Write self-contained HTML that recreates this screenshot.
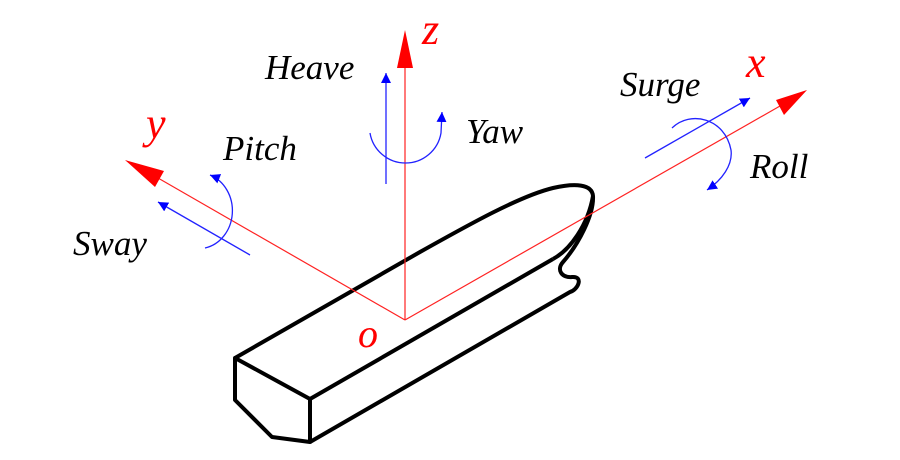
<!DOCTYPE html>
<html><head><style>html,body{margin:0;padding:0;background:#fff}svg{display:block}text{font-family:"Liberation Serif","DejaVu Serif",serif;font-style:italic}</style></head><body>
<svg width="900" height="460" viewBox="0 0 900 460" xmlns="http://www.w3.org/2000/svg">
<defs>
<marker id="rh" viewBox="0 0 10 10" refX="10" refY="5" markerWidth="10" markerHeight="10" markerUnits="userSpaceOnUse" orient="auto"><path d="M0,0 L10,5 L0,10 Z" fill="#00f"/></marker>
</defs>
<g fill="none" stroke="#000" stroke-width="4" stroke-linejoin="round">
<path d="M235,358 L310,399 L310,442 L272,437 L235,400 Z"/>
<path d="M310,399 L553,259"/>
<path d="M235,358 L420,252 C470,224 520,196 553,188 C575,183 592,184 593,196 C594,215 578,245 563,262 C556,270 562,278 572,277 C584,276 578,290 570,292 L310,442"/>
<path d="M593,196 C588,225 570,250 553,259"/>
</g>
<g stroke="#f22" stroke-width="1.2">
<line x1="405" y1="320" x2="405" y2="68"/>
<line x1="405" y1="320" x2="780" y2="106"/>
<line x1="405" y1="320" x2="158" y2="178"/>
</g>
<g fill="#f00">
<path d="M405,30 L397,68 L413,68 Z"/>
<path d="M807,90 L776,100 L784,115 Z"/>
<path d="M125,160 L164,171 L155,187 Z"/>
</g>
<g stroke="#22f" stroke-width="1.3" fill="none" marker-end="url(#rh)">
<line x1="386" y1="184" x2="386" y2="73"/>
<path d="M370,133 A36,36 0 0 0 441,133 L442,112"/>
<path d="M205,248 A34,38 0 0 0 210,175"/>
<line x1="250" y1="255" x2="158" y2="202"/>
<line x1="645" y1="158" x2="750" y2="98"/>
<path d="M672,128 C690,110 725,118 731,150 C733,165 722,180 707,190"/>
</g>
<g fill="#f00" font-size="44">
<text x="422" y="44">z</text>
<text x="146" y="138">y</text>
<text x="746" y="77">x</text>
<text x="358" y="347" font-size="40">o</text>
</g>
<g fill="#000" font-size="35">
<text x="265" y="79">Heave</text>
<text x="466" y="143">Yaw</text>
<text x="223" y="160">Pitch</text>
<text x="73" y="255">Sway</text>
<text x="620" y="96">Surge</text>
<text x="750" y="178">Roll</text>
</g>
</svg>
</body></html>
